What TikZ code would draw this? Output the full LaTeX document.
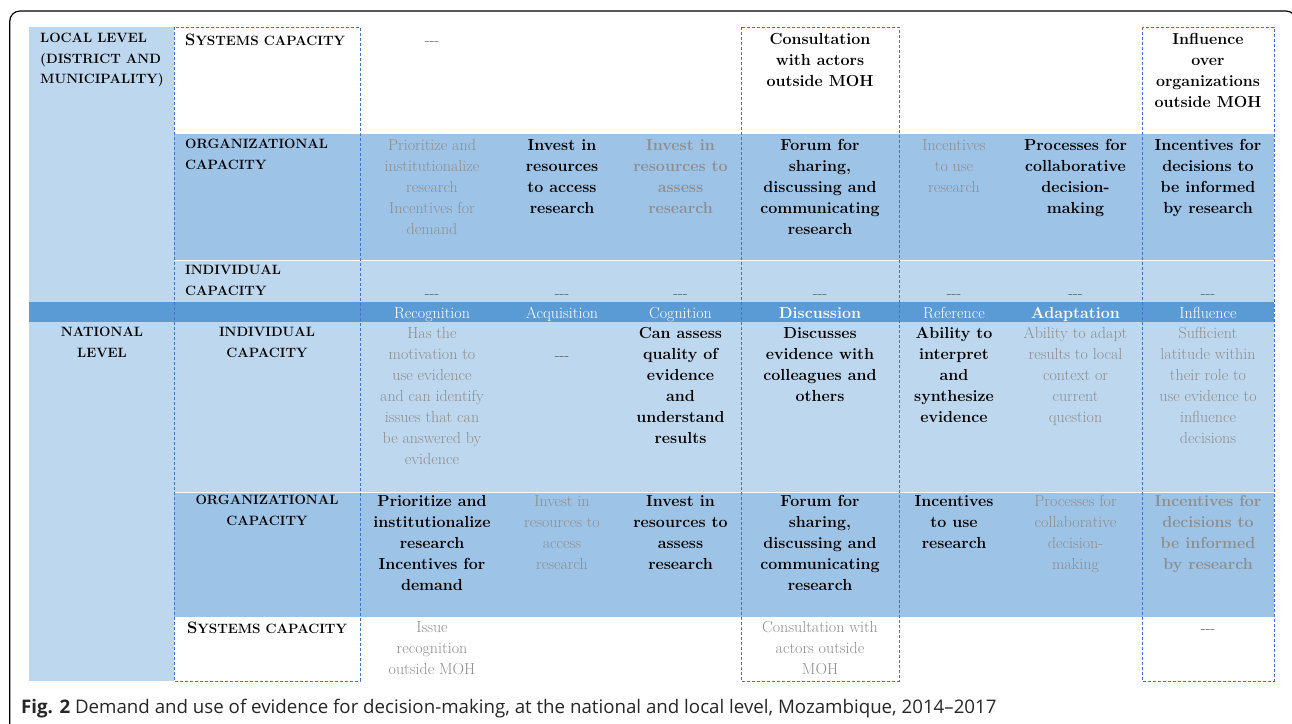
\documentclass[tikz,border=0pt]{standalone}
\usepackage{fontspec}
\newfontfamily\capfont{Open Sans}
\definecolor{lightblue}{HTML}{BDD7EE}
\definecolor{midblue}{HTML}{9DC3E6}
\definecolor{stripblue}{HTML}{5B9BD5}
\definecolor{boxblue}{HTML}{4472C4}
\definecolor{txtgray}{HTML}{8E8E8E}
\definecolor{dashgray}{HTML}{555555}
\tikzset{
  txt/.style={align=center, anchor=north, yshift=12pt, inner sep=0pt,
    execute at begin node={\rule{0pt}{12pt}}, font=\fontsize{16}{21}\selectfont},
  bk/.style={txt, font=\fontsize{16}{21}\selectfont\bfseries},
  gr/.style={txt, text=txtgray},
  grb/.style={bk, text=txtgray},
  dashtxt/.style={txt, text=dashgray},
  hdr/.style={txt, text=white},
  hdrb/.style={bk, text=white},
  capname/.style={txt, anchor=north west, align=left, font=\fontsize{13.5}{20.5}\selectfont\bfseries},
  capmid/.style={capname, anchor=north, align=center},
  colbox/.style={draw=boxblue, densely dashed, line width=0.8pt}
}
\newcommand{\sysname}{{\fontsize{16.5}{21}\selectfont S}YSTEMS CAPACITY}
\begin{document}
\begin{tikzpicture}[x=1pt, y=-1pt]
\useasboundingbox (0,0) rectangle (1292,723);
% frame
\draw[line width=1.2pt, rounded corners=10pt] (9.8,740) -- (9.8,11) -- (1296,11) -- (1296,740);
% bands
\fill[lightblue] (29,27) rectangle (174,302);
\fill[midblue] (174,133) rectangle (1274,260);
\fill[lightblue] (174,260) rectangle (1274,302);
\fill[stripblue] (29,302) rectangle (1274,322);
\fill[lightblue] (29,322) rectangle (1274,492);
\fill[midblue] (174,492) rectangle (1274,617);
\fill[lightblue] (29,492) rectangle (174,681);
\foreach \y in {133,260,492,617}
  \draw[white, line width=0.6pt] (174,\y) -- (1274,\y);
% dashed columns
\draw[colbox] (174,27) rectangle (360,681);
\draw[colbox] (741,27) rectangle (899,681);
\draw[colbox] (1142,27) rectangle (1274,681);

% level column
\node[capname] (local) at (40,45) {LOCAL LEVEL\\(DISTRICT AND\\MUNICIPALITY)};
\node[capmid] (national) at (102,339) {NATIONAL\\LEVEL};

% local level
\node[capname] (l-sys) at (185,45) {\sysname};
\node[dashtxt] (l-sys-rec) at (432,45) {-{}-{}-};
\node[bk] (l-sys-dis) at (820,45) {Consultation\\with actors\\outside MOH};
\node[bk] (l-sys-inf) at (1208,45) {Influence\\over\\organizations\\outside MOH};

\node[capname] (l-org) at (185,151) {ORGANIZATIONAL\\CAPACITY};
\node[gr] (l-org-rec) at (432,151) {Prioritize and\\institutionalize\\research\\Incentives for\\demand};
\node[bk] (l-org-acq) at (562,151) {Invest in\\resources\\to access\\research};
\node[grb] (l-org-cog) at (680.5,151) {Invest in\\resources to\\assess\\research};
\node[bk] (l-org-dis) at (820,151) {Forum for\\sharing,\\discussing and\\communicating\\research};
\node[gr] (l-org-ref) at (954,151) {Incentives\\to use\\research};
\node[bk] (l-org-ada) at (1075.5,151) {Processes for\\collaborative\\decision-\\making};
\node[bk] (l-org-inf) at (1208,151) {Incentives for\\decisions to\\be informed\\by research};

\node[capname] (l-ind) at (185,277) {INDIVIDUAL\\CAPACITY};
\foreach \x [count=\i] in {432,562,680.5,820,954,1075.5,1208}
  \node[dashtxt] (l-ind-\i) at (\x,298) {-{}-{}-};

% stages
\foreach \x/\lbl/\s in {432/Recognition/hdr, 562/Acquisition/hdr, 680.5/Cognition/hdr,
    820/Discussion/hdrb, 954/Reference/hdr, 1075.5/Adaptation/hdrb, 1208/Influence/hdr}
  \node[\s] (st-\lbl) at (\x,318) {\lbl};

% national level
\node[capmid] (n-ind) at (267,339) {INDIVIDUAL\\CAPACITY};
\node[gr] (n-ind-rec) at (432,339) {Has the\\motivation to\\use evidence\\and can identify\\issues that can\\be answered by\\evidence};
\node[dashtxt] (n-ind-acq) at (562,360) {-{}-{}-};
\node[bk] (n-ind-cog) at (680.5,339) {Can assess\\quality of\\evidence\\and\\understand\\results};
\node[bk] (n-ind-dis) at (820,339) {Discusses\\evidence with\\colleagues and\\others};
\node[bk] (n-ind-ref) at (954,339) {Ability to\\interpret\\and\\synthesize\\evidence};
\node[gr] (n-ind-ada) at (1075.5,339) {Ability to adapt\\results to local\\context or\\current\\question};
\node[gr] (n-ind-inf) at (1208,339) {Sufficient\\latitude within\\their role to\\use evidence to\\influence\\decisions};

\node[capmid] (n-org) at (267,507) {ORGANIZATIONAL\\CAPACITY};
\node[bk] (n-org-rec) at (432,507) {Prioritize and\\institutionalize\\research\\Incentives for\\demand};
\node[gr] (n-org-acq) at (562,507) {Invest in\\resources to\\access\\research};
\node[bk] (n-org-cog) at (680.5,507) {Invest in\\resources to\\assess\\research};
\node[bk] (n-org-dis) at (820,507) {Forum for\\sharing,\\discussing and\\communicating\\research};
\node[bk] (n-org-ref) at (954,507) {Incentives\\to use\\research};
\node[gr] (n-org-ada) at (1075.5,507) {Processes for\\collaborative\\decision-\\making};
\node[grb] (n-org-inf) at (1208,507) {Incentives for\\decisions to\\be informed\\by research};

\node[capmid] (n-sys) at (267,633) {\sysname};
\node[gr] (n-sys-rec) at (432,633) {Issue\\recognition\\outside MOH};
\node[gr] (n-sys-dis) at (820,633) {Consultation with\\actors outside\\MOH};
\node[dashtxt] (n-sys-inf) at (1208,633) {-{}-{}-};

% caption
\node[anchor=base west, inner sep=0pt, font=\capfont\fontsize{18.7}{22}\selectfont, text=black!85] (caption) at (21,713)
  {\textbf{Fig. 2} Demand and use of evidence for decision-making, at the national and local level, Mozambique, 2014–2017};
\end{tikzpicture}
\end{document}
